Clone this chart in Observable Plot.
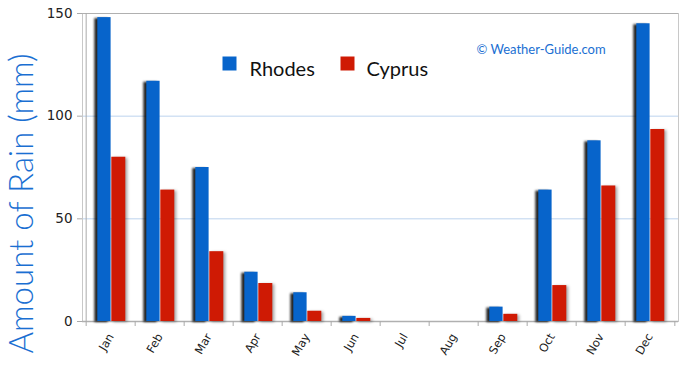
<!DOCTYPE html>
<html>
<head>
<meta charset="utf-8">
<script src="https://cdn.jsdelivr.net/npm/d3@7"></script>
<script src="https://cdn.jsdelivr.net/npm/@observablehq/plot@0.6"></script>
<style>
  html, body { margin: 0; padding: 0; background: #fff; }
  #chart svg { display: block; }
  g.rhodes-bars { filter: drop-shadow(-3px 1px 1px rgba(0,0,0,0.85)); }
  g.cyprus-bars { filter: drop-shadow(2px 1px 1.5px rgba(0,0,0,0.35)); }
</style>
</head>
<body>
<div id="chart"></div>
<script>
const months = ["Jan","Feb","Mar","Apr","May","Jun","Jul","Aug","Sep","Oct","Nov","Dec"];
const rhodes = [148, 117, 75, 24, 14, 2.5, 0, 0, 7, 64, 88, 145];
const cyprus = [80, 64, 34, 18.5, 5, 1.5, 0, 0, 3.5, 17.5, 66, 93.5];
const series = ["Rhodes", "Cyprus"];
const colors = ["#0764cb", "#cf1a04"];
const yTicks = [0, 50, 100, 150];
const gridTicks = [50, 100];
const yLabel = "Amount of Rain (mm)";
const credit = "© Weather-Guide.com";

const W = 690, H = 372, ML = 82, MR = 12, MT = 13, MB = 51;
const bw = (W - ML - MR) / months.length;

const rhodesData = months.map((m, i) => ({month: m, value: rhodes[i]}));
const cyprusData = months.map((m, i) => ({month: m, value: cyprus[i]}));

const hand = "Lato, 'Open Sans', sans-serif";

const chart = Plot.plot({
  width: W, height: H,
  marginLeft: ML, marginRight: MR, marginTop: MT, marginBottom: MB,
  style: {background: "#fff", fontFamily: "DejaVu Sans, sans-serif", color: "#333"},
  x: {domain: months, padding: 0, axis: null},
  y: {domain: [0, 150], axis: null},
  marks: [
    Plot.ruleY(gridTicks, {stroke: "#bcd3ee", strokeWidth: 1}),
    Plot.frame({stroke: "#c8c8c8"}),
    Plot.ruleY([150], {stroke: "#b0b0b0"}),
    Plot.ruleY([0], {stroke: "#b0b0b0", strokeWidth: 1.5}),
    Plot.axisY({ticks: yTicks, tickSize: 5, tickPadding: 5, fontSize: 13.5, stroke: "#aaa", fill: "#222", label: null}),
    Plot.axisX({ticks: months, tickSize: 5, tickFormat: () => "", dx: -bw / 2, stroke: "#aaa", label: null}),
    Plot.axisX({ticks: ["Dec"], tickSize: 5, tickFormat: () => "", dx: bw / 2, stroke: "#aaa", label: null}),
    Plot.axisX({ticks: months, tickSize: 0, tickPadding: 13, tickRotate: -60, fontSize: 11.5, fill: "#222", label: null}),
    Plot.ruleX([0], {x: () => months[0], dx: -bw / 2, stroke: "#aaa", y1: 0, y2: 150}),
    Plot.barY(cyprusData, {x: "month", y: "value", fill: colors[1], insetLeft: 25.3, insetRight: 9.7, className: "cyprus-bars"}),
    Plot.barY(rhodesData, {x: "month", y: "value", fill: colors[0], insetLeft: 11.3, insetRight: 24.4, className: "rhodes-bars"}),
    Plot.dot([series[0]], {frameAnchor: "top-left", dx: 147, dy: 50, symbol: "square", r: 7.9, fill: colors[0]}),
    Plot.text([series[0]], {frameAnchor: "top-left", dx: 167, dy: 48, text: d => d, textAnchor: "start", fontSize: 20, fill: "#111", fontFamily: hand}),
    Plot.dot([series[1]], {frameAnchor: "top-left", dx: 265, dy: 50, symbol: "square", r: 7.9, fill: colors[1]}),
    Plot.text([series[1]], {frameAnchor: "top-left", dx: 284, dy: 48, text: d => d, textAnchor: "start", fontSize: 20, fill: "#111", fontFamily: hand}),
    Plot.text([credit], {frameAnchor: "top-left", dx: 394, dy: 31, text: d => d, textAnchor: "start", fontSize: 13, fill: "#1a6fd2", fontFamily: hand}),
    Plot.text([yLabel], {frameAnchor: "bottom-left", dx: -50, dy: 32, rotate: -90, textAnchor: "start", fontSize: 33, fill: "#1a6fd2", fontFamily: hand, fontWeight: 300})
  ]
});

document.getElementById("chart").appendChild(chart);
</script>
</body>
</html>
